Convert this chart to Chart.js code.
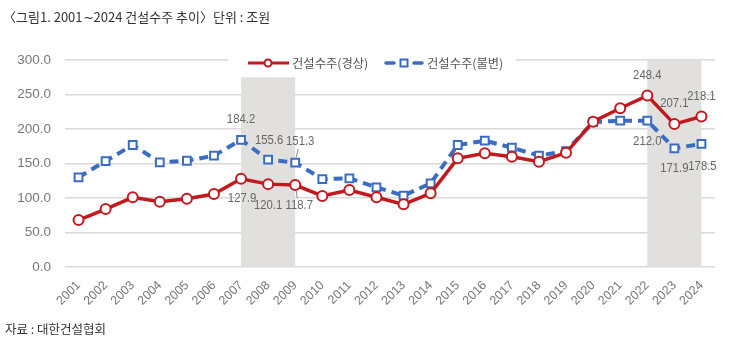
<!DOCTYPE html>
<html><head><meta charset="utf-8">
<script src="https://cdn.jsdelivr.net/npm/chart.js@4"></script>
<style>
html,body{margin:0;padding:0;background:#fff;}
#wrap{position:relative;width:736px;height:353px;overflow:hidden;}
#title{position:absolute;left:3px;top:7px;font:13px "Noto Sans CJK KR",sans-serif;color:#333;white-space:nowrap;}
#src{position:absolute;left:5px;top:319px;font:12.5px "Noto Sans CJK KR",sans-serif;color:#333;white-space:nowrap;}
canvas{position:absolute;left:0;top:0;}
</style></head>
<body><div id="wrap">
<canvas id="c" width="736" height="353"></canvas>
<div id="title">〈그림1. 2001∼2024 건설수주 추이〉단위 : 조원</div>
<div id="src">자료 : 대한건설협회</div>
</div>
<script>
const years = ['2001','2002','2003','2004','2005','2006','2007','2008','2009','2010','2011','2012','2013','2014','2015','2016','2017','2018','2019','2020','2021','2022','2023','2024'];
const nominal = [68.0,84.0,101.0,94.6,99.0,105.8,127.9,120.1,118.7,103.0,111.6,101.0,90.8,106.8,157.5,164.7,159.9,152.7,165.5,210.6,230.0,248.4,207.1,218.1];
const constant = [130.0,153.6,176.8,151.7,154.0,161.3,184.2,155.6,151.3,127.5,128.5,115.5,103.4,121.3,176.8,183.0,173.0,161.3,168.0,210.0,212.0,212.0,171.9,178.5];
const seriesNames = ['건설수주(경상)','건설수주(불변)'];
const yTicks = [0,50,100,150,200,250,300];
const shadeRanges = [{from:6,to:8,top:275},{from:21,to:23,top:300}];

const RED='#c01a1f', BLUE='#3b6cc3';
const NUMFONT='"Liberation Sans",Arial,sans-serif';

const labelPlace = [
  {6:[1,20],7:[0,21],8:[4,20,true],21:[0,-20],22:[0,-21],23:[0,-20]},
  {6:[0,-21],7:[1,-19],8:[5,-21,true],21:[0,21],22:[0,20],23:[1,22]}
];

const shadePlugin = {
  id:'shade',
  beforeDatasetsDraw(chart){
    const {ctx,scales:{x,y}} = chart;
    ctx.save();
    ctx.fillStyle='#e2e0de';
    shadeRanges.forEach(r=>{
      const x0=x.getPixelForValue(r.from), x1=x.getPixelForValue(r.to);
      const yt=y.getPixelForValue(r.top), yb=y.getPixelForValue(0);
      ctx.fillRect(x0,yt,x1-x0,yb-yt);
    });
    ctx.restore();
  }
};

const labelPlugin = {
  id:'labels',
  afterDatasetsDraw(chart){
    const ctx=chart.ctx;
    ctx.save();
    chart.data.datasets.forEach((ds,di)=>{
      const meta=chart.getDatasetMeta(di);
      Object.keys(labelPlace[di]).forEach(k=>{
        const i=+k; const [dx,dy,leader]=labelPlace[di][k];
        const p=meta.data[i];
        const tx=p.x+dx, ty=p.y+dy;
        if(leader){
          ctx.strokeStyle='#888';ctx.lineWidth=1;
          ctx.beginPath();
          const s = dy<0?1:-1;
          ctx.moveTo(tx-2, ty+s*7); ctx.lineTo(p.x+1, p.y-s*5);
          ctx.stroke();
        }
        ctx.save();
        ctx.translate(tx,ty);ctx.scale(0.84,1);
        ctx.font='13.5px '+NUMFONT;
        ctx.fillStyle='#666';
        ctx.textAlign='center';ctx.textBaseline='middle';
        ctx.fillText(ds.data[i].toFixed(1),0,0);
        ctx.restore();
      });
    });
    ctx.restore();
  }
};

const legendPlugin = {
  id:'customLegend',
  afterDraw(chart){
    const ctx=chart.ctx;
    const yc=63;
    ctx.save();
    ctx.fillStyle='#fff';
    ctx.fillRect(228,56,288,16);
    ctx.strokeStyle=RED;ctx.lineWidth=3;
    ctx.beginPath();ctx.moveTo(248,yc);ctx.lineTo(289,yc);ctx.stroke();
    ctx.fillStyle='#fff';ctx.lineWidth=2;
    ctx.beginPath();ctx.arc(268,yc,3.5,0,Math.PI*2);ctx.fill();ctx.stroke();
    ctx.strokeStyle=BLUE;ctx.lineWidth=3.5;ctx.lineCap='round';
    ctx.beginPath();ctx.moveTo(386,yc);ctx.lineTo(394,yc);ctx.moveTo(414,yc);ctx.lineTo(422,yc);ctx.stroke();
    ctx.lineCap='butt';ctx.lineWidth=2;
    ctx.fillRect(400.5,yc-3.5,7,7);ctx.strokeRect(400.5,yc-3.5,7,7);
    ctx.fillStyle='#555';
    ctx.font='12.3px "Noto Sans CJK KR",sans-serif';
    ctx.textBaseline='middle';ctx.textAlign='left';
    ctx.fillText(seriesNames[0],292,yc);
    ctx.fillText(seriesNames[1],427,yc);
    ctx.restore();
  }
};

new Chart(document.getElementById('c'),{
  type:'line',
  data:{labels:years,datasets:[
    {label:seriesNames[0],data:nominal,borderColor:RED,borderWidth:3.5,backgroundColor:'#fff',
     pointStyle:'circle',pointRadius:5,pointBorderWidth:2,pointBackgroundColor:'#fff',pointBorderColor:RED,tension:0},
    {label:seriesNames[1],data:constant,borderColor:BLUE,borderWidth:4,borderDash:[9,6],backgroundColor:'#fff',
     pointStyle:'rect',pointRadius:5.5,pointBorderWidth:2,pointBackgroundColor:'#fff',pointBorderColor:BLUE,tension:0}
  ]},
  options:{
    responsive:false,animation:false,
    layout:{padding:{top:60,right:21,left:0,bottom:0}},
    plugins:{legend:{display:false},tooltip:{enabled:false}},
    scales:{
      x:{offset:true,grid:{display:false},border:{display:false},
         afterFit(s){s.height=86;},
         ticks:{minRotation:45,maxRotation:45,autoSkip:false,color:'#777',padding:3,
           font:{family:NUMFONT,size:12.5}}},
      y:{min:0,max:300,afterFit(s){s.width=65;},
         afterBuildTicks(s){s.ticks=yTicks.map(v=>({value:v}));},
         grid:{color:'#d9d9d9',lineWidth:1.5,drawTicks:false},border:{display:false},
         ticks:{padding:14,color:'#777',callback:v=>Number(v).toFixed(1),
           font:{family:NUMFONT,size:13.5}}}
    }
  },
  plugins:[shadePlugin,labelPlugin,legendPlugin]
});
</script>
</body></html>
